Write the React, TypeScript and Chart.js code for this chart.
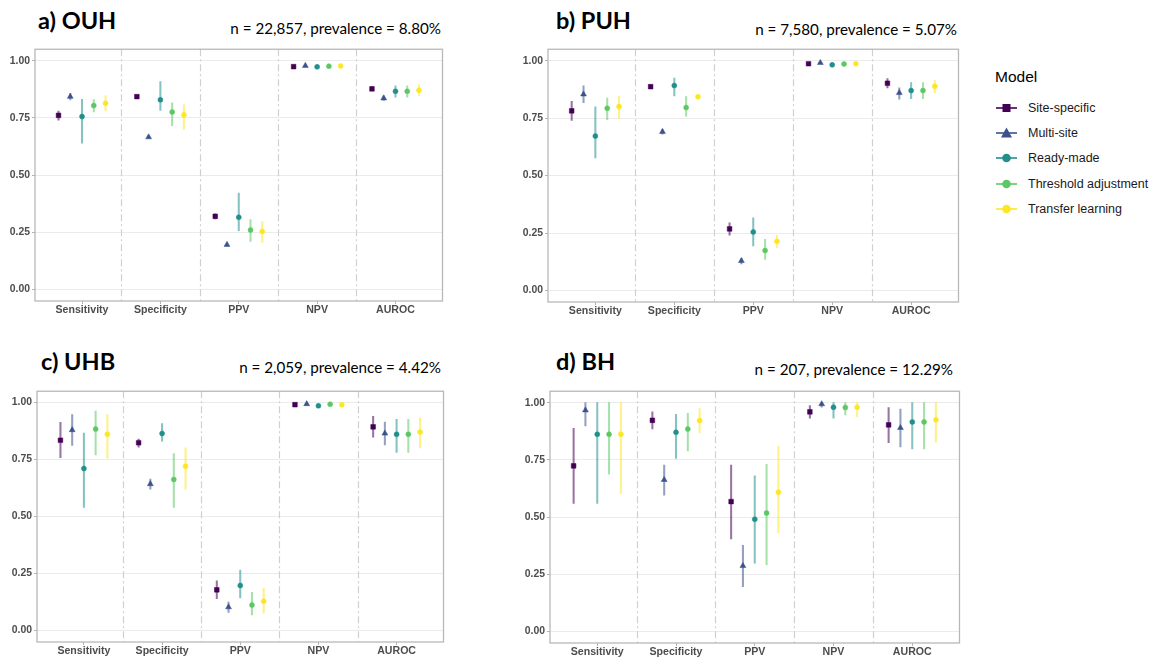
import React, { useEffect, useRef } from 'react';
import { Chart, registerables } from 'chart.js';

Chart.register(...registerables);

// ---------- data ----------
const categories = ['Sensitivity', 'Specificity', 'PPV', 'NPV', 'AUROC'];
const models = ['Site-specific', 'Multi-site', 'Ready-made', 'Threshold adjustment', 'Transfer learning'];
const modelColors = ['#440154', '#3B528B', '#21908C', '#5DC863', '#FDE725'];
const modelShapes = ['rect', 'triangle', 'circle', 'circle', 'circle'];
const yTicks = [0, 0.25, 0.5, 0.75, 1];

// rows = models, columns = categories
const ouhEstimate = [
  [0.761, 0.843, 0.320, 0.974, 0.877],
  [0.843, 0.666, 0.196, 0.978, 0.836],
  [0.756, 0.829, 0.316, 0.973, 0.866],
  [0.804, 0.776, 0.260, 0.976, 0.866],
  [0.814, 0.764, 0.254, 0.977, 0.871],
];
const ouhLower = [
  [0.740, 0.838, 0.309, 0.971, 0.869],
  [0.829, 0.661, 0.191, 0.975, 0.826],
  [0.640, 0.783, 0.257, 0.970, 0.841],
  [0.776, 0.716, 0.210, 0.973, 0.841],
  [0.780, 0.700, 0.206, 0.974, 0.847],
];
const ouhUpper = [
  [0.780, 0.848, 0.331, 0.977, 0.886],
  [0.857, 0.671, 0.201, 0.981, 0.846],
  [0.831, 0.909, 0.421, 0.976, 0.890],
  [0.830, 0.816, 0.306, 0.979, 0.890],
  [0.847, 0.807, 0.297, 0.980, 0.896],
];

const puhEstimate = [
  [0.782, 0.887, 0.268, 0.987, 0.902],
  [0.854, 0.691, 0.129, 0.991, 0.860],
  [0.672, 0.892, 0.255, 0.982, 0.870],
  [0.793, 0.796, 0.174, 0.986, 0.870],
  [0.801, 0.843, 0.214, 0.987, 0.889],
];
const puhLower = [
  [0.740, 0.882, 0.241, 0.985, 0.882],
  [0.817, 0.680, 0.116, 0.989, 0.833],
  [0.577, 0.847, 0.194, 0.979, 0.835],
  [0.743, 0.759, 0.135, 0.984, 0.835],
  [0.749, 0.833, 0.186, 0.985, 0.861],
];
const puhUpper = [
  [0.823, 0.892, 0.295, 0.989, 0.922],
  [0.891, 0.700, 0.140, 0.993, 0.882],
  [0.799, 0.925, 0.316, 0.985, 0.905],
  [0.837, 0.844, 0.223, 0.988, 0.905],
  [0.845, 0.854, 0.240, 0.989, 0.916],
];

const uhbEstimate = [
  [0.835, 0.824, 0.179, 0.991, 0.894],
  [0.880, 0.643, 0.103, 0.994, 0.865],
  [0.711, 0.865, 0.198, 0.986, 0.861],
  [0.884, 0.663, 0.112, 0.993, 0.861],
  [0.861, 0.721, 0.129, 0.991, 0.871],
];
const uhbLower = [
  [0.759, 0.805, 0.140, 0.987, 0.848],
  [0.812, 0.620, 0.080, 0.990, 0.814],
  [0.540, 0.831, 0.143, 0.979, 0.782],
  [0.771, 0.540, 0.069, 0.989, 0.782],
  [0.756, 0.620, 0.077, 0.987, 0.801],
];
const uhbUpper = [
  [0.914, 0.840, 0.218, 0.995, 0.940],
  [0.948, 0.665, 0.125, 0.997, 0.915],
  [0.867, 0.908, 0.266, 0.993, 0.927],
  [0.963, 0.777, 0.168, 0.997, 0.927],
  [0.948, 0.802, 0.185, 0.995, 0.933],
];

const bhEstimate = [
  [0.724, 0.923, 0.568, 0.960, 0.903],
  [0.967, 0.663, 0.287, 0.994, 0.890],
  [0.862, 0.871, 0.491, 0.980, 0.916],
  [0.862, 0.885, 0.518, 0.979, 0.916],
  [0.862, 0.922, 0.609, 0.980, 0.925],
];
const bhLower = [
  [0.560, 0.885, 0.405, 0.932, 0.825],
  [0.899, 0.596, 0.196, 0.980, 0.807],
  [0.560, 0.757, 0.299, 0.932, 0.798],
  [0.688, 0.789, 0.292, 0.946, 0.798],
  [0.602, 0.868, 0.431, 0.939, 0.828],
];
const bhUpper = [
  [0.888, 0.960, 0.727, 0.987, 0.979],
  [1.000, 0.727, 0.377, 1.000, 0.972],
  [1.000, 0.949, 0.680, 1.000, 1.000],
  [1.000, 0.953, 0.731, 1.000, 1.000],
  [1.000, 0.974, 0.809, 1.000, 1.000],
];

// ---------- styling / layout ----------
const DODGE = 0.15;
const POINT_RADIUS: Record<string, number> = { rect: 3.3, triangle: 3.4, circle: 2.5 };
const AX_W = 36;
const AX_H = 22;
const PAD_T = 3;
const PAD_R = 3;
const AXIS_FONT = '"Liberation Sans", Arial, sans-serif';
const TITLE_FONT = 'Lato, "Open Sans", sans-serif';

function withAlpha(hex: string, a: number) {
  const n = parseInt(hex.slice(1), 16);
  return `rgba(${(n >> 16) & 255},${(n >> 8) & 255},${n & 255},${a})`;
}

const framePlugin = {
  id: 'frame',
  beforeDatasetsDraw(chart: any) {
    const { ctx, chartArea } = chart;
    const xs = chart.scales.x;
    ctx.save();
    ctx.strokeStyle = '#d0d0d0';
    ctx.lineWidth = 1.2;
    ctx.setLineDash([7, 3, 2, 3]);
    for (let i = 0; i < categories.length - 1; i++) {
      const px = Math.round(xs.getPixelForValue(i + 0.5)) + 0.5;
      ctx.beginPath();
      ctx.moveTo(px, chartArea.top);
      ctx.lineTo(px, chartArea.bottom);
      ctx.stroke();
    }
    ctx.setLineDash([]);
    ctx.strokeStyle = '#b8b8b8';
    ctx.lineWidth = 1.3;
    ctx.strokeRect(chartArea.left, chartArea.top, chartArea.right - chartArea.left, chartArea.bottom - chartArea.top);
    ctx.restore();
  },
};

type Area = { left: number; top: number; right: number; bottom: number };

function Panel({ est, low, high, area }: { est: number[][]; low: number[][]; high: number[][]; area: Area }) {
  const ref = useRef<HTMLCanvasElement | null>(null);
  const cw = area.right - area.left + AX_W + PAD_R;
  const ch = area.bottom - area.top + PAD_T + AX_H;

  useEffect(() => {
    if (!ref.current) return;
    const datasets: any[] = [];
    models.forEach((m, mi) => {
      const off = (mi - (models.length - 1) / 2) * DODGE;
      datasets.push({
        type: 'scatter',
        label: m,
        data: categories.map((_, ci) => ({ x: ci + off, y: est[mi][ci] })),
        pointStyle: modelShapes[mi],
        pointRadius: POINT_RADIUS[modelShapes[mi]],
        backgroundColor: modelColors[mi],
        borderColor: modelColors[mi],
        borderWidth: 0.5,
        order: 0,
      });
    });
    models.forEach((m, mi) => {
      const off = (mi - (models.length - 1) / 2) * DODGE;
      datasets.push({
        type: 'bar',
        label: m + ' CI',
        data: categories.map((_, ci) => ({ x: ci + off, y: [low[mi][ci], high[mi][ci]] })),
        backgroundColor: withAlpha(modelColors[mi], 0.55),
        borderWidth: 0,
        grouped: false,
        barThickness: 1.4,
        maxBarThickness: 1.4,
        barPercentage: 1,
        categoryPercentage: 1,
        order: 1,
      });
    });

    const chart = new Chart(ref.current, {
      type: 'scatter',
      data: { datasets },
      plugins: [framePlugin],
      options: {
        animation: false,
        responsive: false,
        devicePixelRatio: 1,
        events: [],
        layout: { padding: { left: 0, top: PAD_T, right: PAD_R, bottom: 0 } },
        plugins: { legend: { display: false }, tooltip: { enabled: false }, title: { display: false } },
        scales: {
          x: {
            type: 'linear',
            min: -0.6,
            max: categories.length - 0.4,
            offset: false,
            afterBuildTicks: (s: any) => {
              s.ticks = categories.map((_, i) => ({ value: i }));
            },
            afterFit: (s: any) => {
              s.height = AX_H;
            },
            ticks: {
              callback: (v: any) => categories[Math.round(Number(v))] ?? '',
              font: { family: AXIS_FONT, size: 10.6, weight: 'bold' },
              color: '#4d4d4d',
              padding: 0,
              maxRotation: 0,
              autoSkip: false,
            },
            grid: { drawOnChartArea: false, drawTicks: true, tickLength: 3, tickColor: '#b3b3b3', offset: false },
            border: { display: false },
          },
          y: {
            type: 'linear',
            min: -0.05,
            max: 1.05,
            afterBuildTicks: (s: any) => {
              s.ticks = yTicks.map((v) => ({ value: v }));
            },
            afterFit: (s: any) => {
              s.width = AX_W;
            },
            ticks: {
              callback: (v: any) => Number(v).toFixed(2),
              font: { family: AXIS_FONT, size: 10.4, weight: 'bold' },
              color: '#4d4d4d',
              padding: 2,
            },
            grid: { color: '#ebebeb', lineWidth: 1, drawTicks: true, tickLength: 3, tickColor: '#b3b3b3' },
            border: { display: false },
          },
        },
      } as any,
    });
    return () => chart.destroy();
  }, []);

  return (
    <canvas
      ref={ref}
      width={cw}
      height={ch}
      style={{ position: 'absolute', left: area.left - AX_W, top: area.top - PAD_T, width: cw, height: ch }}
    />
  );
}

function PanelTitle({ label, name, left, baseline }: { label: string; name: string; left: number; baseline: number }) {
  return (
    <div
      style={{
        position: 'absolute',
        left,
        top: baseline - 21,
        fontFamily: TITLE_FONT,
        fontWeight: 700,
        fontSize: 23.5,
        lineHeight: '25px',
        color: '#000',
        whiteSpace: 'nowrap',
      }}
    >
      {label} {name}
    </div>
  );
}

function PanelSubtitle({ text, right, baseline }: { text: string; right: number; baseline: number }) {
  return (
    <div
      style={{
        position: 'absolute',
        left: right - 400,
        width: 400,
        textAlign: 'right',
        top: baseline - 14,
        fontFamily: TITLE_FONT,
        fontWeight: 400,
        fontSize: 15.2,
        lineHeight: '17px',
        color: '#000',
        whiteSpace: 'nowrap',
      }}
    >
      {text}
    </div>
  );
}

function LegendMarker({ shape, color }: { shape: string; color: string }) {
  return (
    <svg width={24} height={14} style={{ display: 'block' }}>
      <line x1={1} y1={7} x2={22} y2={7} stroke={color} strokeWidth={1.6} />
      {shape === 'rect' && <rect x={7.5} y={3} width={8} height={8} fill={color} />}
      {shape === 'triangle' && <polygon points="11.5,1.5 17,11.5 6,11.5" fill={color} />}
      {shape === 'circle' && <circle cx={11.5} cy={7} r={4.3} fill={color} />}
    </svg>
  );
}

function Legend() {
  return (
    <div style={{ position: 'absolute', left: 995, top: 67, fontFamily: AXIS_FONT, color: '#1a1a1a' }}>
      <div style={{ fontSize: 15.5, lineHeight: '20px', marginBottom: 8, color: '#000' }}>Model</div>
      {models.map((m, i) => (
        <div key={m} style={{ display: 'flex', alignItems: 'center', height: 25.4 }}>
          <LegendMarker shape={modelShapes[i]} color={modelColors[i]} />
          <span style={{ marginLeft: 9, fontSize: 12.5, whiteSpace: 'nowrap' }}>{m}</span>
        </div>
      ))}
    </div>
  );
}

export default function App() {
  useEffect(() => {
    document.body.style.margin = '0';
    document.body.style.background = '#ffffff';
  }, []);
  return (
    <div style={{ position: 'relative', width: 1156, height: 657, background: '#fff', overflow: 'hidden' }}>
      <PanelTitle label="a)" name="OUH" left={38} baseline={29} />
      <PanelSubtitle text="n = 22,857, prevalence = 8.80%" right={441} baseline={34} />
      <Panel est={ouhEstimate} low={ouhLower} high={ouhUpper} area={{ left: 35, top: 44, right: 444, bottom: 301 }} />

      <PanelTitle label="b)" name="PUH" left={556} baseline={29} />
      <PanelSubtitle text="n = 7,580, prevalence = 5.07%" right={957} baseline={35} />
      <Panel est={puhEstimate} low={puhLower} high={puhUpper} area={{ left: 548, top: 44, right: 960, bottom: 302 }} />

      <PanelTitle label="c)" name="UHB" left={41} baseline={370} />
      <PanelSubtitle text="n = 2,059, prevalence = 4.42%" right={441} baseline={373} />
      <Panel est={uhbEstimate} low={uhbLower} high={uhbUpper} area={{ left: 37, top: 386, right: 445, bottom: 642 }} />

      <PanelTitle label="d)" name="BH" left={556} baseline={370} />
      <PanelSubtitle text="n = 207, prevalence = 12.29%" right={953} baseline={375} />
      <Panel est={bhEstimate} low={bhLower} high={bhUpper} area={{ left: 550, top: 386, right: 961, bottom: 643 }} />

      <Legend />
    </div>
  );
}
